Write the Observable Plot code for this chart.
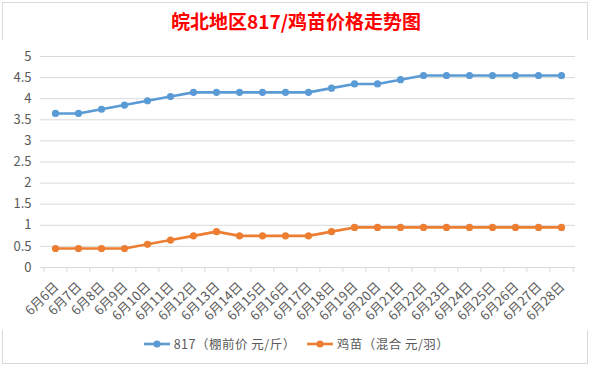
<!DOCTYPE html>
<html><head><meta charset="utf-8">
<script src="https://cdn.jsdelivr.net/npm/d3@7"></script>
<script src="https://cdn.jsdelivr.net/npm/@observablehq/plot@0.6"></script>
<style>
html,body{margin:0;padding:0;background:#fff;}
#wrap{position:relative;width:592px;height:368px;overflow:hidden;font-family:"Noto Sans CJK SC","Noto Sans",sans-serif;}
#frame{position:absolute;left:2px;top:2px;width:586px;height:362px;border:1px solid #d9d9d9;box-sizing:border-box;}
#title{position:absolute;left:0;top:9px;width:592px;text-align:center;color:#ff0000;font-weight:bold;font-size:19px;line-height:24px;}
#chart{position:absolute;left:0;top:40px;}
#legend{position:absolute;left:0;top:334px;width:592px;display:flex;justify-content:center;align-items:center;gap:10px;font-size:12.5px;color:#595959;letter-spacing:0.5px;}
#legend .item{display:flex;align-items:center;gap:3px;}
</style>
</head><body>
<div id="wrap">
  <div id="frame"></div>
  <div id="title">皖北地区817/鸡苗价格走势图</div>
  <div id="chart"></div>
  <div id="legend"></div>
</div>
<script>
const dates = ["6月6日","6月7日","6月8日","6月9日","6月10日","6月11日","6月12日","6月13日","6月14日","6月15日","6月16日","6月17日","6月18日","6月19日","6月20日","6月21日","6月22日","6月23日","6月24日","6月25日","6月26日","6月27日","6月28日"];
const price817 = [3.65,3.65,3.75,3.85,3.95,4.05,4.15,4.15,4.15,4.15,4.15,4.15,4.25,4.35,4.35,4.45,4.55,4.55,4.55,4.55,4.55,4.55,4.55];
const priceChick = [0.45,0.45,0.45,0.45,0.55,0.65,0.75,0.85,0.75,0.75,0.75,0.75,0.85,0.95,0.95,0.95,0.95,0.95,0.95,0.95,0.95,0.95,0.95];
const seriesNames = ["817（棚前价 元/斤）","鸡苗（混合 元/羽）"];
const seriesColors = ["#5b9bd5","#ed7d31"];
const yTicks = [0,0.5,1,1.5,2,2.5,3,3.5,4,4.5,5];

const rows = [];
dates.forEach((d,i)=>{
  rows.push({date:d, value:price817[i], series:seriesNames[0]});
  rows.push({date:d, value:priceChick[i], series:seriesNames[1]});
});

const W = 592, ML = 40, MR = 17;
const step = (W - ML - MR) / dates.length;

const chart = Plot.plot({
  width: W, height: 290,
  marginLeft: ML, marginRight: MR, marginTop: 16, marginBottom: 63,
  style: {fontFamily: '"Noto Sans CJK SC","Noto Sans",sans-serif', fontSize: "12px", color: "#595959", background: "#fff"},
  x: {domain: dates, type: "point", padding: 0.5, label: null},
  y: {domain: [0,5], label: null},
  color: {domain: seriesNames, range: seriesColors},
  marks: [
    Plot.gridY(yTicks, {stroke: "#d9d9d9", strokeOpacity: 1}),
    Plot.ruleY([0], {stroke: "#d9d9d9", strokeWidth: 1.2}),
    Plot.axisY({ticks: yTicks, tickFormat: d => String(d), tickSize: 0, tickPadding: 9, fill: "#595959", fontSize: 13, style: {letterSpacing: "1px"}}),
    Plot.axisX({tickSize: 5, tickFormat: () => "", stroke: "#d9d9d9", dx: -step/2}),
    Plot.axisX(dates.slice(-1), {tickSize: 5, tickFormat: () => "", stroke: "#d9d9d9", dx: step/2}),
    Plot.axisX({tickRotate: -45, tickSize: 0, tickPadding: 17, dx: 1, fill: "#595959", fontSize: 13, style: {letterSpacing: "0.5px"}}),
    Plot.line(rows, {x: "date", y: "value", stroke: "series", z: "series", strokeWidth: 2.6}),
    Plot.dot(rows, {x: "date", y: "value", fill: "series", r: 3.6})
  ]
});
document.getElementById("chart").appendChild(chart);

const legend = document.getElementById("legend");
seriesNames.forEach((name,i)=>{
  const item = document.createElement("div");
  item.className = "item";
  item.innerHTML = `<svg width="28" height="10"><line x1="1" x2="27" y1="5" y2="5" stroke="${seriesColors[i]}" stroke-width="2.6"/><circle cx="14" cy="5" r="3.6" fill="${seriesColors[i]}"/></svg><span>${name}</span>`;
  legend.appendChild(item);
});
</script>
</body></html>
